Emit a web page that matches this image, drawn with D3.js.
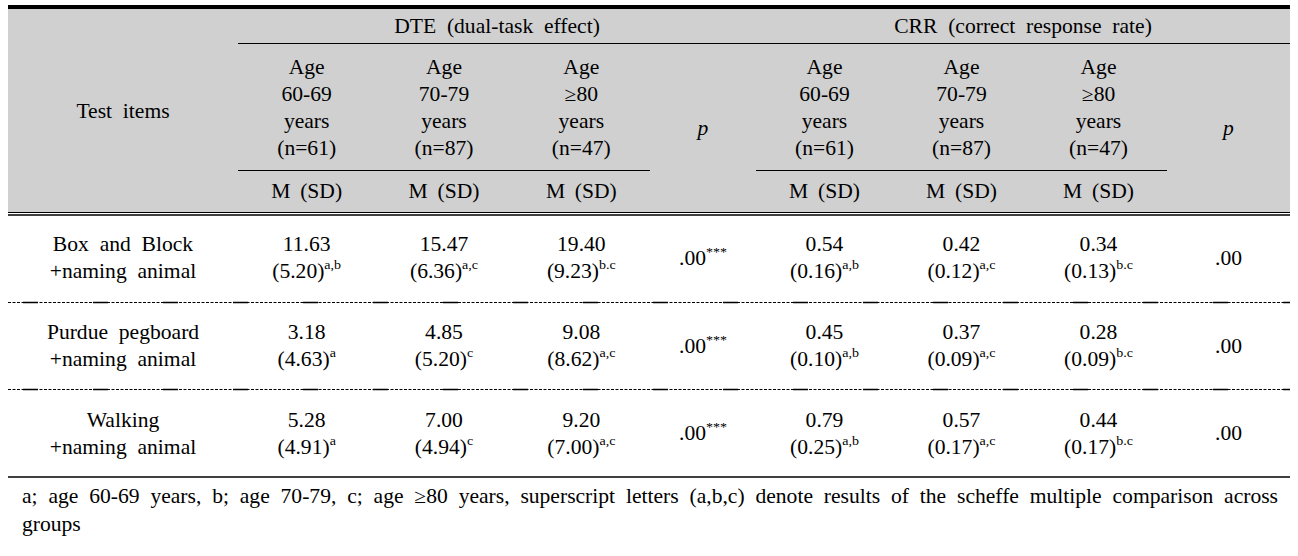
<!DOCTYPE html>
<html><head><meta charset="utf-8">
<script src="https://cdn.jsdelivr.net/npm/d3@7"></script>
</head><body style="margin:0;padding:0;background:#fff">
<svg id="c" width="1298" height="556" style="display:block"></svg>
<script>
// ---------- data ----------
const testItems = [["Box and Block","+naming animal"],["Purdue pegboard","+naming animal"],["Walking","+naming animal"]];
const groupTitles = ["DTE (dual-task effect)","CRR (correct response rate)"];
const ageHeaders = [["Age","60-69","years","(n=61)"],["Age","70-79","years","(n=87)"],["Age","\u226580","years","(n=47)"]];
const statLabel = "M (SD)";
const firstColLabel = "Test items";
const pLabel = "p";
const dteMean = [[11.63,15.47,19.40],[3.18,4.85,9.08],[5.28,7.00,9.20]];
const dteSD   = [[5.20,6.36,9.23],[4.63,5.20,8.62],[4.91,4.94,7.00]];
const dteSup  = [["a,b","a,c","b.c"],["a","c","a,c"],["a","c","a,c"]];
const dteP    = [0.00,0.00,0.00];
const dtePSup = ["***","***","***"];
const crrMean = [[0.54,0.42,0.34],[0.45,0.37,0.28],[0.79,0.57,0.44]];
const crrSD   = [[0.16,0.12,0.13],[0.10,0.09,0.09],[0.25,0.17,0.17]];
const crrSup  = [["a,b","a,c","b.c"],["a,b","a,c","b.c"],["a,b","a,c","b.c"]];
const crrP    = [0.00,0.00,0.00];
const crrPSup = ["","",""];
const footnote = ["a; age 60-69 years, b; age 70-79, c; age \u226580 years, superscript letters (a,b,c) denote results of the scheffe multiple comparison across","groups"];

// ---------- layout ----------
const svg = d3.select("#c");
const FONT = "'Liberation Serif'";
const SX = 1.08;   // the source font is set slightly wide
const X0 = 8, X1 = 1290;
const colDTE = d3.scaleBand().domain([0,1,2]).range([238,650]);
const colCRR = d3.scaleBand().domain([0,1,2]).range([756,1167]);
const pCol = d3.scaleOrdinal().domain(["dte","crr"]).range([[650,756],[1167,X1]]);
const rowY = d3.scaleBand().domain([0,1,2]).range([214,477]);
const fmt = d3.format(".2f");
const fmtP = v => fmt(v).replace(/^0/,"");
const FS = 20;
const wide = s => s.replace(/ /g,"\u2002");
const mid = s => s.replace(/ /g," \u2009");

// header background
svg.append("rect").attr("x",X0).attr("y",9).attr("width",X1-X0).attr("height",203).attr("fill","#d0d0d0");

function hline(x1,x2,y,w,dash){
  const l = svg.append("line").attr("x1",x1).attr("x2",x2).attr("y1",y).attr("y2",y)
    .attr("stroke","#000").attr("stroke-width",w);
  if(dash) l.attr("stroke-dasharray",dash);
  return l;
}
hline(X0,X1,7,4);
hline(colDTE.range()[0],X1,43.5,1.2);
hline(colDTE.range()[0],colDTE.range()[1],170.5,1.2);
hline(colCRR.range()[0],colCRR.range()[1],170.5,1.2);
hline(X0,X1,212.5,1);
hline(X0,X1,215,1.6);
[1,2].forEach(r=>{
  const y = Math.round(rowY(r))+0.5;
  hline(X0,X1,y,1,"3,1.5");
  hline(X0,X1,y,1.4,"15,55").attr("stroke-dashoffset",55);
});
hline(X0,X1,477,1.6);

function text(x,y,parts,opts={}){
  const g = svg.append("g").attr("transform",`translate(${x},${y}) scale(${SX},1)`);
  const t = g.append("text").attr("x",0).attr("y",0)
    .attr("font-family",FONT)
    .attr("text-anchor",opts.anchor||"middle")
    .attr("font-size",opts.size||FS).attr("fill","#000");
  if(opts.italic) t.attr("font-style","italic");
  if(parts.length===1 && typeof parts[0]==="string"){ t.text(parts[0]); return t; }
  parts.forEach(p=>{
    if(typeof p === "string"){
      t.append("tspan").attr("font-family",FONT).attr("font-size",opts.size||FS).text(p);
    } else if(p.sup){
      t.append("tspan").attr("font-family",FONT).attr("font-size",13).attr("dy",-9).text(p.sup);
    }
  });
  return t;
}

// header texts
text((X0+colDTE.range()[0])/2,118,[wide(firstColLabel)]);
text((colDTE.range()[0]+pCol("dte")[1])/2,33,[wide(groupTitles[0])]);
text((colCRR.range()[0]+pCol("crr")[1])/2,33,[wide(groupTitles[1])]);
[colDTE,colCRR].forEach(sc=>{
  ageHeaders.forEach((lines,i)=>{
    const cx = sc(i)+sc.bandwidth()/2;
    lines.forEach((ln,k)=> text(cx,74+27*k,[ln]));
    text(cx,198,[mid(statLabel)]);
  });
});
["dte","crr"].forEach(k=>{
  const r = pCol(k);
  text((r[0]+r[1])/2,135,[pLabel],{italic:true});
});

// body
testItems.forEach((lines,r)=>{
  const cy = rowY(r)+rowY.bandwidth()/2;
  text((X0+colDTE.range()[0])/2,cy-6.5,[wide(lines[0])]);
  text((X0+colDTE.range()[0])/2,cy+20.5,[wide(lines[1])]);
  [[colDTE,dteMean,dteSD,dteSup],[colCRR,crrMean,crrSD,crrSup]].forEach(([sc,M,S,SU])=>{
    [0,1,2].forEach(i=>{
      const cx = sc(i)+sc.bandwidth()/2;
      text(cx,cy-6.5,[fmt(M[r][i])]);
      text(cx,cy+20.5,["("+fmt(S[r][i])+")",{sup:SU[r][i]}]);
    });
  });
  [["dte",dteP,dtePSup],["crr",crrP,crrPSup]].forEach(([k,P,PS])=>{
    const rr = pCol(k);
    const parts = [fmtP(P[r])];
    if(PS[r]) parts.push({sup:PS[r]});
    text((rr[0]+rr[1])/2,cy+7,parts);
  });
});

// footnote: first line justified by placing each word
const fx0 = 22, fx1 = 1278;
const words = footnote[0].split(" ");
const wNodes = words.map(w=>text(0,503,[w],{anchor:"start"}));
const widths = wNodes.map(s=>s.node().getComputedTextLength()*SX);
const gap = (fx1-fx0-d3.sum(widths))/(words.length-1);
let px = fx0;
wNodes.forEach((s,i)=>{
  d3.select(s.node().parentNode).attr("transform",`translate(${px},503) scale(${SX},1)`);
  px += widths[i]+gap;
});
text(fx0,531,[footnote[1]],{anchor:"start"});
</script>
</body></html>
